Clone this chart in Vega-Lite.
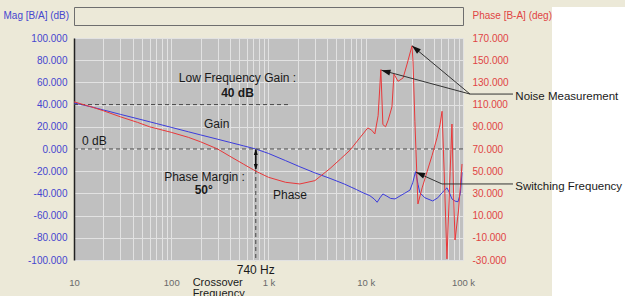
{
  "$schema": "https://vega.github.io/schema/vega-lite/v6.json",
  "background": "#ECE9D8",
  "padding": {"left": 3, "top": 6, "right": 0, "bottom": 0},
  "config": {
    "view": {"fill": "#c0c0c0", "stroke": null},
    "font": "Liberation Sans"
  },
  "datasets": {
    "gain": [
      {"f": 10, "db": 41.5}, {"f": 15, "db": 38}, {"f": 20, "db": 35.2}, {"f": 30, "db": 31.2},
      {"f": 50, "db": 26.3}, {"f": 70, "db": 23}, {"f": 100, "db": 19.5}, {"f": 150, "db": 15.5},
      {"f": 200, "db": 12.7}, {"f": 300, "db": 8.8}, {"f": 400, "db": 6}, {"f": 550, "db": 2.9},
      {"f": 740, "db": 0}, {"f": 1000, "db": -4}, {"f": 1500, "db": -10.5}, {"f": 2100, "db": -16},
      {"f": 3000, "db": -21.5}, {"f": 4300, "db": -26.5}, {"f": 6000, "db": -31.5}, {"f": 8000, "db": -36.5},
      {"f": 9400, "db": -39.5}, {"f": 11000, "db": -42}, {"f": 12200, "db": -45}, {"f": 13100, "db": -48},
      {"f": 14000, "db": -44}, {"f": 15000, "db": -40.5}, {"f": 16500, "db": -42.5}, {"f": 18000, "db": -44.5},
      {"f": 20000, "db": -45}, {"f": 22500, "db": -42.3}, {"f": 25000, "db": -40}, {"f": 28500, "db": -37},
      {"f": 30500, "db": -30}, {"f": 32500, "db": -20.4}, {"f": 34500, "db": -32}, {"f": 36000, "db": -39.4},
      {"f": 40500, "db": -43.9}, {"f": 48800, "db": -46.8}, {"f": 55000, "db": -44}, {"f": 60900, "db": -39.4},
      {"f": 68400, "db": -35}, {"f": 73000, "db": -40}, {"f": 77000, "db": -45}, {"f": 83000, "db": -47},
      {"f": 88900, "db": -47.5}, {"f": 94000, "db": -40}, {"f": 97700, "db": -21}
    ],
    "phase": [
      {"f": 10, "ph": 112.5}, {"f": 15, "ph": 108}, {"f": 20, "ph": 104.5}, {"f": 30, "ph": 99},
      {"f": 45, "ph": 94}, {"f": 60, "ph": 90}, {"f": 100, "ph": 85}, {"f": 150, "ph": 80.5},
      {"f": 200, "ph": 76.5}, {"f": 300, "ph": 70}, {"f": 400, "ph": 63.5}, {"f": 550, "ph": 56.5},
      {"f": 740, "ph": 50}, {"f": 1000, "ph": 44.5}, {"f": 1500, "ph": 40}, {"f": 2100, "ph": 38.5},
      {"f": 3000, "ph": 41.5}, {"f": 4300, "ph": 52.5}, {"f": 5500, "ph": 61}, {"f": 6900, "ph": 69},
      {"f": 8500, "ph": 79}, {"f": 10500, "ph": 89}, {"f": 11500, "ph": 87}, {"f": 12400, "ph": 83.5},
      {"f": 13400, "ph": 100}, {"f": 14300, "ph": 141.5}, {"f": 15000, "ph": 92}, {"f": 16000, "ph": 90},
      {"f": 17000, "ph": 96}, {"f": 18600, "ph": 108}, {"f": 19500, "ph": 137.5}, {"f": 21500, "ph": 131},
      {"f": 24200, "ph": 134}, {"f": 26600, "ph": 146.5}, {"f": 29900, "ph": 163}, {"f": 30600, "ph": 149},
      {"f": 32000, "ph": 95}, {"f": 34400, "ph": 20.5}, {"f": 38000, "ph": 35}, {"f": 42000, "ph": 47.5},
      {"f": 48000, "ph": 64}, {"f": 54000, "ph": 80}, {"f": 58000, "ph": 92}, {"f": 60900, "ph": 104},
      {"f": 64000, "ph": 50}, {"f": 68400, "ph": -29}, {"f": 73000, "ph": 40}, {"f": 77000, "ph": 92.5},
      {"f": 80000, "ph": 30}, {"f": 82800, "ph": -12}, {"f": 90000, "ph": 15}, {"f": 97700, "ph": 56.5}
    ],
    "callouts": [
      {"f": 345000, "db": 46.8, "t": "Noise Measurement"},
      {"f": 345000, "db": -34.2, "t": "Switching Frequency"}
    ]
  },
  "hconcat": [
    {
      "vconcat": [
        {
          "width": 389,
          "height": 18,
          "view": {"fill": "#ECE9D8", "stroke": "#6e6e6e", "strokeWidth": 1},
          "data": {"values": [{}]},
          "mark": {"type": "text", "text": ""},
          "encoding": {}
        },
        {
          "width": 389,
          "height": 222,
          "encoding": {
            "x": {
              "field": "f",
              "type": "quantitative",
              "scale": {"type": "log", "domain": [10, 100000], "nice": false},
              "axis": {
                "values": [10, 20, 30, 40, 50, 60, 70, 80, 90, 100, 200, 300, 400, 500, 600, 700, 800, 900, 1000, 2000, 3000, 4000, 5000, 6000, 7000, 8000, 9000, 10000, 20000, 30000, 40000, 50000, 60000, 70000, 80000, 90000, 100000],
                "labelExpr": "datum.value == 10 ? '10' : datum.value == 100 ? '100' : datum.value == 1000 ? '1 k' : datum.value == 10000 ? '10 k' : datum.value == 100000 ? '100 k' : ''",
                "grid": true,
                "gridColor": "#e2e2e2",
                "gridWidth": 1,
                "ticks": false,
                "domain": false,
                "labelColor": "#6a6a6a",
                "labelFontSize": 9.5,
                "labelPadding": 17,
                "labelOverlap": false,
                "labelFlush": false,
                "title": null
              }
            }
          },
          "resolve": {"scale": {"y": "independent"}},
          "layer": [
            {
              "data": {"name": "gain"},
              "mark": {"type": "line", "color": "#3c3cdc", "strokeWidth": 1},
              "encoding": {
                "y": {
                  "field": "db",
                  "type": "quantitative",
                  "scale": {"domain": [-100, 100], "nice": false, "zero": false},
                  "axis": {
                    "orient": "left",
                    "values": [-100, -80, -60, -40, -20, 0, 20, 40, 60, 80, 100],
                    "labelExpr": "replace(format(datum.value, '.3f'), '\u2212', '-')",
                    "labelColor": "#4646cf",
                    "labelFontSize": 10,
                    "labelPadding": 7,
                    "ticks": false,
                    "domain": true,
                    "domainColor": "#222222",
                    "domainWidth": 1.5,
                    "grid": true,
                    "gridColor": "#e2e2e2",
                    "title": "Mag [B/A] (dB)",
                    "titleAngle": 0,
                    "titleAlign": "left",
                    "titleBaseline": "middle",
                    "titleX": -71,
                    "titleY": -23,
                    "titleColor": "#4646cf",
                    "titleFontSize": 10,
                    "titleFontWeight": "normal"
                  }
                }
              }
            },
            {
              "data": {"values": [{"f": 10, "f2": 1663, "db": 40}, {"f": 10, "f2": 100000, "db": 0}]},
              "mark": {"type": "rule", "color": "#454545", "strokeDash": [4, 3], "strokeWidth": 1},
              "encoding": {
                "x2": {"field": "f2"},
                "y": {"field": "db", "type": "quantitative", "scale": {"domain": [-100, 100], "nice": false, "zero": false}, "axis": null}
              }
            },
            {
              "data": {"values": [{"f": 740, "db": 0, "db2": -101}]},
              "mark": {"type": "rule", "color": "#454545", "strokeDash": [4, 3], "strokeWidth": 1},
              "encoding": {
                "y": {"field": "db", "type": "quantitative", "scale": {"domain": [-100, 100], "nice": false, "zero": false}, "axis": null},
                "y2": {"field": "db2"}
              }
            },
            {
              "data": {"name": "phase"},
              "mark": {"type": "line", "color": "#e8383a", "strokeWidth": 1},
              "encoding": {
                "y": {
                  "field": "ph",
                  "type": "quantitative",
                  "scale": {"domain": [-30, 170], "nice": false, "zero": false},
                  "axis": {
                    "orient": "right",
                    "values": [-30, -10, 10, 30, 50, 70, 90, 110, 130, 150, 170],
                    "labelExpr": "replace(format(datum.value, '.3f'), '\u2212', '-')",
                    "labelColor": "#e04444",
                    "labelFontSize": 10,
                    "labelPadding": 9,
                    "ticks": false,
                    "domain": false,
                    "grid": false,
                    "title": "Phase [B-A] (deg)",
                    "titleAngle": 0,
                    "titleAlign": "left",
                    "titleBaseline": "middle",
                    "titleX": 9,
                    "titleY": -23,
                    "titleColor": "#e04444",
                    "titleFontSize": 10,
                    "titleFontWeight": "normal"
                  }
                }
              }
            },
            {
              "data": {"values": [{"f": 740, "db": -1, "db2": -18}]},
              "mark": {"type": "rule", "color": "#111111", "strokeWidth": 1.5},
              "encoding": {
                "y": {"field": "db", "type": "quantitative", "scale": {"domain": [-100, 100], "nice": false, "zero": false}, "axis": null},
                "y2": {"field": "db2"}
              }
            },
            {
              "data": {"values": [{"f": 740, "db": 0}]},
              "mark": {"type": "point", "shape": "M0,0L-1,3L1,3Z", "size": 16, "filled": true, "color": "#111111", "opacity": 1, "angle": 0},
              "encoding": {
                "y": {"field": "db", "type": "quantitative", "scale": {"domain": [-100, 100], "nice": false, "zero": false}, "axis": null}
              }
            },
            {
              "data": {"values": [{"f": 740, "db": -19}]},
              "mark": {"type": "point", "shape": "M0,0L-1,3L1,3Z", "size": 16, "filled": true, "color": "#111111", "opacity": 1, "angle": 180},
              "encoding": {
                "y": {"field": "db", "type": "quantitative", "scale": {"domain": [-100, 100], "nice": false, "zero": false}, "axis": null}
              }
            },
            {
              "data": {"values": [
                {"g": "n1", "o": 1, "f": 326600, "db": 49.5}, {"g": "n1", "o": 2, "f": 118000, "db": 49.5}, {"g": "n1", "o": 3, "f": 29900, "db": 93},
                {"g": "n2", "o": 1, "f": 118000, "db": 49.5}, {"g": "n2", "o": 2, "f": 14500, "db": 71},
                {"g": "s1", "o": 1, "f": 326600, "db": -31.5}, {"g": "s1", "o": 2, "f": 60800, "db": -31.5}, {"g": "s1", "o": 3, "f": 32900, "db": -21}
              ]},
              "mark": {"type": "line", "color": "#333333", "strokeWidth": 1},
              "encoding": {
                "y": {"field": "db", "type": "quantitative", "scale": {"domain": [-100, 100], "nice": false, "zero": false}, "axis": null},
                "detail": {"field": "g"},
                "order": {"field": "o"}
              }
            },
            {
              "data": {"values": [{"f": 29900, "db": 93}]},
              "mark": {"type": "point", "shape": "M0,0L-1,3L1,3Z", "size": 36, "filled": true, "color": "#111111", "opacity": 1, "angle": 309.6},
              "encoding": {
                "y": {"field": "db", "type": "quantitative", "scale": {"domain": [-100, 100], "nice": false, "zero": false}, "axis": null}
              }
            },
            {
              "data": {"values": [{"f": 14500, "db": 71}]},
              "mark": {"type": "point", "shape": "M0,0L-1,3L1,3Z", "size": 36, "filled": true, "color": "#111111", "opacity": 1, "angle": 285.3},
              "encoding": {
                "y": {"field": "db", "type": "quantitative", "scale": {"domain": [-100, 100], "nice": false, "zero": false}, "axis": null}
              }
            },
            {
              "data": {"values": [{"f": 32900, "db": -21}]},
              "mark": {"type": "point", "shape": "M0,0L-1,3L1,3Z", "size": 36, "filled": true, "color": "#111111", "opacity": 1, "angle": 293},
              "encoding": {
                "y": {"field": "db", "type": "quantitative", "scale": {"domain": [-100, 100], "nice": false, "zero": false}, "axis": null}
              }
            },
            {
              "data": {"values": [
                {"f": 480, "db": 64.2, "t": "Low Frequency Gain :"},
                {"f": 293, "db": 22.3, "t": "Gain"},
                {"f": 220, "db": -25, "t": "Phase Margin :"},
                {"f": 1663, "db": -41.4, "t": "Phase"},
                {"f": 740, "db": -108.9, "t": "740 Hz"}
              ]},
              "mark": {"type": "text", "align": "center", "baseline": "middle", "fontSize": 12, "color": "#1a1a1a"},
              "encoding": {
                "y": {"field": "db", "type": "quantitative", "scale": {"domain": [-100, 100], "nice": false, "zero": false}, "axis": null},
                "text": {"field": "t"}
              }
            },
            {
              "data": {"values": [
                {"f": 480, "db": 50.2, "t": "40 dB"},
                {"f": 216, "db": -36.5, "t": "50°"}
              ]},
              "mark": {"type": "text", "align": "center", "baseline": "middle", "fontSize": 12, "fontWeight": "bold", "color": "#1a1a1a"},
              "encoding": {
                "y": {"field": "db", "type": "quantitative", "scale": {"domain": [-100, 100], "nice": false, "zero": false}, "axis": null},
                "text": {"field": "t"}
              }
            },
            {
              "data": {"values": [
                {"f": 12.1, "db": 7.2, "t": "0 dB"}
              ]},
              "mark": {"type": "text", "align": "left", "baseline": "middle", "fontSize": 12, "color": "#1a1a1a"},
              "encoding": {
                "y": {"field": "db", "type": "quantitative", "scale": {"domain": [-100, 100], "nice": false, "zero": false}, "axis": null},
                "text": {"field": "t"}
              }
            },
            {
              "data": {"values": [
                {"f": 166, "db": -120.5, "t": "Crossover"},
                {"f": 166, "db": -130.5, "t": "Frequency"}
              ]},
              "mark": {"type": "text", "align": "left", "baseline": "middle", "fontSize": 11, "color": "#1a1a1a"},
              "encoding": {
                "y": {"field": "db", "type": "quantitative", "scale": {"domain": [-100, 100], "nice": false, "zero": false}, "axis": null},
                "text": {"field": "t"}
              }
            }
          ]
        }
      ],
      "spacing": 13,
      "bounds": "flush"
    },
    {
      "width": 73,
      "height": 290,
      "view": {"fill": "#ffffff", "stroke": null},
      "data": {"name": "callouts"},
      "mark": {"type": "text", "align": "left", "baseline": "middle", "fontSize": 11.5, "color": "#1a1a1a"},
      "encoding": {
        "x": {"field": "f", "type": "quantitative", "scale": {"type": "log", "domain": [822000, 4630000], "nice": false}, "axis": null},
        "y": {"field": "db", "type": "quantitative", "scale": {"domain": [-133.33, 127.93], "nice": false, "zero": false}, "axis": null},
        "text": {"field": "t"}
      }
    }
  ],
  "spacing": 478,
  "bounds": "flush"
}
